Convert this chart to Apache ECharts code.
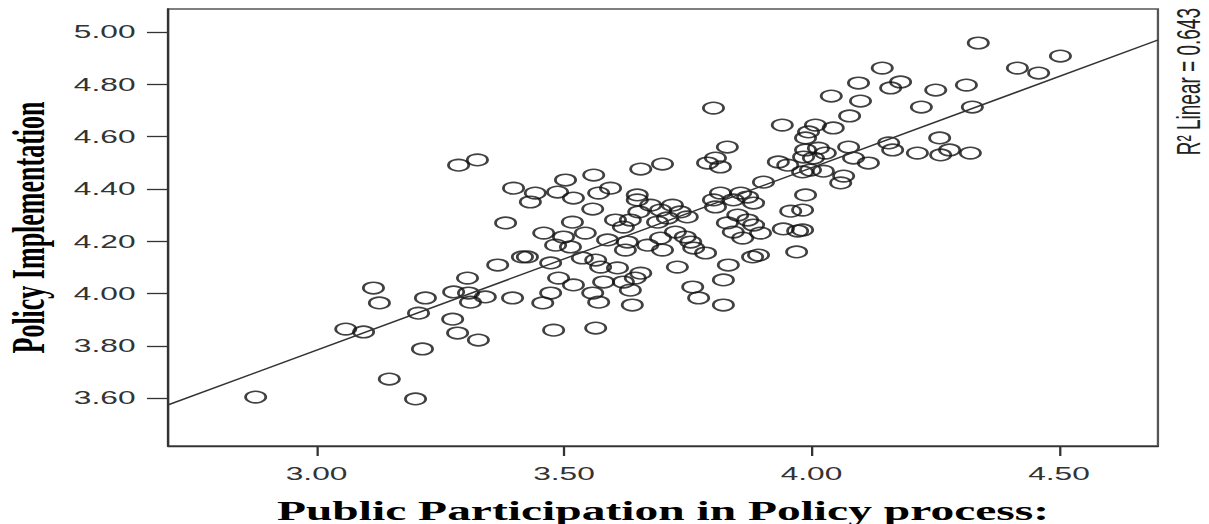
<!DOCTYPE html>
<html>
<head>
<meta charset="utf-8">
<script src="https://cdn.jsdelivr.net/npm/echarts@6/dist/echarts.min.js"></script>
<style>
html,body{margin:0;padding:0;background:#fff;overflow:hidden;}
#chart{width:687px;height:524px;transform:scaleX(1.7598);transform-origin:0 0;}
</style>
</head>
<body>
<div id="chart"></div>
<script>
// Public Participation in Policy process (x) vs Policy Implementation (y)
const observations = [
  [2.877,3.604],[3.059,3.864],[3.095,3.853],[3.115,4.021],[3.127,3.964],[3.147,3.673],
  [3.200,3.597],[3.206,3.925],[3.214,3.788],[3.220,3.983],[3.275,3.902],[3.285,3.849],
  [3.277,4.006],[3.307,4.002],[3.311,3.967],[3.305,4.059],[3.327,3.822],[3.341,3.987],
  [3.287,4.491],[3.325,4.511],[3.366,4.109],[3.382,4.270],[3.396,3.983],[3.398,4.403],
  [3.416,4.140],[3.432,4.350],
  [3.442,4.384],[3.487,4.388],[3.503,4.434],[3.560,4.453],[3.519,4.365],[3.570,4.384],
  [3.594,4.403],[3.648,4.377],[3.655,4.476],[3.699,4.495],[3.558,4.323],[3.517,4.273],
  [3.459,4.231],[3.499,4.216],[3.543,4.231],[3.426,4.140],[3.473,4.117],[3.483,4.185],
  [3.513,4.178],[3.588,4.205],[3.537,4.136],[3.564,4.128],[3.574,4.101],[3.608,4.098],
  [3.580,4.044],[3.620,4.044],[3.644,4.059],[3.655,4.078],[3.634,4.013],[3.558,4.002],
  [3.570,3.967],[3.473,4.002],[3.457,3.964],[3.519,4.033],[3.489,4.059],[3.638,3.956],
  [3.479,3.860],[3.564,3.868],
  [3.620,4.254],[3.604,4.281],[3.634,4.281],[3.651,4.312],[3.648,4.358],[3.675,4.338],
  [3.695,4.319],[3.719,4.338],[3.735,4.312],[3.749,4.293],[3.689,4.273],[3.709,4.289],
  [3.628,4.197],[3.624,4.166],[3.669,4.185],[3.695,4.212],[3.725,4.235],[3.745,4.216],
  [3.756,4.197],[3.762,4.174],[3.786,4.155],[3.699,4.166],[3.729,4.101],[3.760,4.025],
  [3.772,3.983],[3.822,3.956],[3.822,4.052],[3.832,4.109],[3.881,4.140],[3.893,4.147],
  [3.806,4.331],[3.816,4.384],[3.830,4.270],[3.842,4.235],[3.861,4.212],[3.883,4.262],
  [3.897,4.231],[3.871,4.281],[3.851,4.300],[3.842,4.358],[3.871,4.369],[3.883,4.346],
  [3.802,4.358],[3.903,4.426],[3.790,4.499],[3.806,4.518],[3.816,4.484],[3.830,4.560],
  [3.802,4.709],[3.933,4.503],[3.952,4.491],[3.941,4.644],[3.984,4.522],[3.998,4.472],
  [3.988,4.377],[3.958,4.315],[3.943,4.247],[3.972,4.239],[3.970,4.159],[3.988,4.549],
  [3.994,4.618],[4.008,4.644],[3.988,4.595],[4.014,4.556],[4.004,4.518],[3.982,4.465],
  [4.059,4.423],[4.065,4.449],[4.024,4.468],[4.085,4.518],[4.115,4.499],[4.164,4.549],
  [4.214,4.537],[4.261,4.530],[4.321,4.537],[4.279,4.549],[4.259,4.595],[4.156,4.576],
  [4.075,4.560],[4.028,4.537],[4.044,4.633],[4.077,4.679],[4.040,4.755],[4.099,4.736],
  [4.095,4.805],[4.143,4.862],[4.180,4.809],[4.160,4.786],[4.222,4.713],[4.251,4.778],
  [4.313,4.797],[4.325,4.713],[4.337,4.958],[4.416,4.862],[4.459,4.843],[4.503,4.908],
  [3.982,4.319],[3.982,4.243],[3.857,4.384]
];
const xTicks = [3.0, 3.5, 4.0, 4.5];
const yTicks = [3.6, 3.8, 4.0, 4.2, 4.4, 4.6, 4.8, 5.0];
const xRange = [2.7, 4.7];
const yRange = [3.417, 5.088];
const fitIntercept = 1.691;
const fitSlope = 0.6975;
const rSquared = 0.643;
const xTitle = 'Public Participation in Policy process:';
const yTitle = 'Policy Implementation';

const fitLine = xRange.map(function (x) { return [x, fitIntercept + fitSlope * x]; });

const chart = echarts.init(document.getElementById('chart'), null, { renderer: 'svg' });
chart.setOption({
  animation: false,
  backgroundColor: '#ffffff',
  grid: {
    left: 95.5, right: 29, top: 9, bottom: 78,
    containLabel: false, outerBoundsMode: 'none',
    show: true, borderColor: '#555', borderWidth: 1.3, backgroundColor: 'transparent'
  },
  xAxis: {
    type: 'value', min: xRange[0], max: xRange[1],
    name: xTitle, nameLocation: 'middle', nameGap: 51,
    nameTextStyle: { fontFamily: '"Liberation Serif", "Times New Roman", serif', fontWeight: 'bold', fontSize: 27, color: '#000' },
    axisLine: { show: true, onZero: false, lineStyle: { color: '#333', width: 1.3 } },
    axisTick: { show: true, length: 10, customValues: xTicks, lineStyle: { color: '#333', width: 1.3 } },
    axisLabel: { customValues: xTicks, margin: 19, fontFamily: '"Liberation Sans", Arial, sans-serif', fontSize: 18, color: '#333',
      formatter: function (v) { return v.toFixed(2); } },
    splitLine: { show: false }
  },
  yAxis: {
    type: 'value', min: yRange[0], max: yRange[1],
    name: yTitle, nameLocation: 'middle', nameGap: 66, nameRotate: 90,
    nameTextStyle: { fontFamily: '"Liberation Serif", "Times New Roman", serif', fontWeight: 'bold', fontSize: 26, color: '#000' },
    axisLine: { show: true, onZero: false, lineStyle: { color: '#333', width: 1.3 } },
    axisTick: { show: true, length: 12, customValues: yTicks, lineStyle: { color: '#333', width: 1.3 } },
    axisLabel: { customValues: yTicks, margin: 18.5, fontFamily: '"Liberation Sans", Arial, sans-serif', fontSize: 18, color: '#333',
      formatter: function (v) { return v.toFixed(2); } },
    splitLine: { show: false }
  },
  graphic: [{
    type: 'text', x: 675, y: 8, rotation: Math.PI / 2,
    style: {
      text: 'R\u00B2 Linear = ' + rSquared.toFixed(3),
      font: '19px "Liberation Sans", Arial, sans-serif',
      fontSize: 19, fontFamily: '"Liberation Sans", Arial, sans-serif',
      fill: '#222', align: 'right', textAlign: 'right', verticalAlign: 'middle', textVerticalAlign: 'middle'
    }
  }],
  series: [
    {
      name: 'Observed', type: 'scatter', data: observations,
      symbol: 'circle', symbolSize: 11.5,
      itemStyle: { color: 'rgba(0,0,0,0)', borderColor: '#111', borderWidth: 1.6 },
      emphasis: { disabled: true }
    },
    {
      name: 'Linear', type: 'line', data: fitLine, symbol: 'none', silent: true,
      lineStyle: { color: '#333', width: 1.3 }
    }
  ]
});
</script>
</body>
</html>
